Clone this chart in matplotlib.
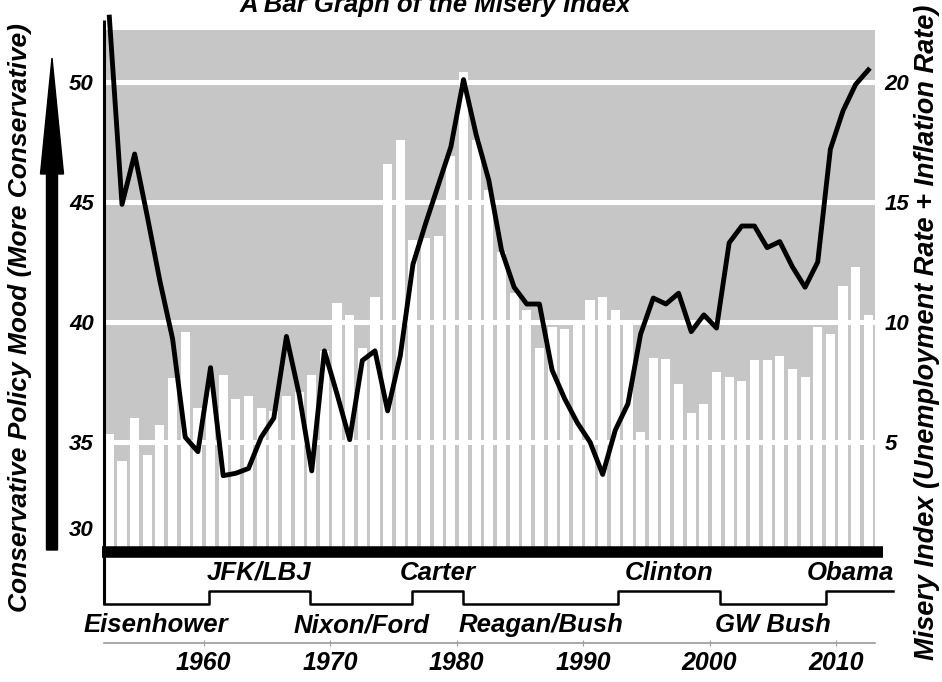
import matplotlib
matplotlib.use('Agg')
import matplotlib.pyplot as plt
import numpy as np
from matplotlib.patches import FancyArrow
from matplotlib.transforms import blended_transform_factory

plt.rcParams['font.family'] = ['Liberation Sans', 'DejaVu Sans']
plt.rcParams['font.weight'] = 'bold'
plt.rcParams['font.style'] = 'italic'

# data
years = list(range(1952, 2013))
misery = [5.35, 4.2, 6.0, 4.45, 5.7, 7.65, 9.6, 6.4, 7.3, 7.8,
          6.8, 6.9, 6.4, 6.3, 6.9, 7.1, 7.8, 8.8, 10.8, 10.3,
          8.9, 11.05, 16.6, 17.6, 13.4, 13.5, 13.6, 16.9, 20.4, 17.6,
          15.5, 12.9, 11.2, 10.5, 8.9, 9.8, 9.7, 10.0, 10.9, 11.05,
          10.5, 9.95, 5.4, 8.5, 8.45, 7.4, 6.2, 6.6, 7.9, 7.7,
          7.55, 8.4, 8.4, 8.6, 8.05, 7.7, 9.8, 9.5, 11.5, 12.3,
          10.3]
mood = [52.7, 44.9, 47.0, 44.4, 41.7, 39.3, 35.2, 34.6, 38.1, 33.6,
        33.7, 33.9, 35.2, 36.0, 39.4, 37.0, 33.8, 38.8, 37.0, 35.1,
        38.4, 38.8, 36.3, 38.6, 42.4, 44.1, 45.7, 47.3, 50.1, 47.8,
        45.9, 43.0, 41.45, 40.75, 40.75, 38.0, 36.8, 35.8, 35.0, 33.65,
        35.5, 36.6, 39.5, 41.0, 40.75, 41.2, 39.6, 40.3, 39.75, 43.3,
        44.0, 44.0, 43.1, 43.35, 42.3, 41.45, 42.5, 47.2, 48.8, 49.9,
        50.5]
presidents = ['Eisenhower', 'JFK/LBJ', 'Nixon/Ford', 'Carter',
              'Reagan/Bush', 'Clinton', 'GW Bush', 'Obama']
term_changes = [1960.4, 1968.4, 1976.5, 1980.5, 1992.8, 2000.8, 2009.2]
decades = [1960, 1970, 1980, 1990, 2000, 2010]
misery_ticks = [5, 10, 15, 20]
mood_ticks = [50, 45, 40, 35, 31.42]
mood_labels = ['50', '45', '40', '35', '30']

x0, x1 = 1952.09, 2013.08
fig = plt.figure(figsize=(9.42, 6.82), dpi=100)
ax = fig.add_axes([0.1099, 0.1899, 0.819, 0.7779])
axm = ax.twinx()
x = np.array(years) + 0.55

ax.set_xlim(x0, x1)
ax.set_ylim(0.4, 22.5)
ax.axhspan(0, 22.17, color='#c6c6c6', lw=0, zorder=0)
for g in misery_ticks:
    ax.axhline(g, color='white', lw=3.6, zorder=1)
ax.bar(x, misery, width=0.72, color='white', lw=0, zorder=2)
ax.yaxis.tick_right()
ax.set_yticks(misery_ticks)
ax.tick_params(axis='y', length=0, pad=7, labelsize=16)
ax.set_xticks([])
for s in ax.spines.values():
    s.set_visible(False)

axm.set_ylim(30.4, 52.5)
axm.yaxis.tick_left()
axm.set_yticks(mood_ticks)
axm.set_yticklabels(mood_labels)
axm.tick_params(axis='y', length=0, pad=7, labelsize=16)
for s in axm.spines.values():
    s.set_visible(False)
axm.plot(x, mood, color='black', lw=3.5, clip_on=False, zorder=3)

# thick black base, left rule
axm.plot([-0.002, 1.0104], [0, 0], transform=axm.transAxes, color='black',
         lw=8.3, solid_capstyle='butt', clip_on=False)
axm.plot([0, 0], [1.004, -0.097], transform=axm.transAxes, color='black',
         lw=2.2, solid_capstyle='butt', clip_on=False)

# presidency step line
trans = blended_transform_factory(axm.transData, axm.transAxes)
low, high = -0.097, -0.0726
levels = [low if i % 2 == 0 else high for i in range(len(presidents))]
sx = [x0] + term_changes + [2014.5]
sy = levels + [levels[-1]]
axm.plot(sx, sy, drawstyle='steps-post', transform=trans, color='black',
         lw=1.8, clip_on=False)
bounds = [x0] + term_changes + [x1]
for i, name in enumerate(presidents):
    mid = (bounds[i] + bounds[i + 1]) / 2
    ty = -0.1367 if levels[i] == low else -0.0386
    axm.text(mid, ty, name, transform=trans, ha='center', va='center',
             fontsize=18.5, clip_on=False)

sec = ax.secondary_xaxis(-0.1706)
sec.set_xticks(decades)
sec.spines['bottom'].set_color('#9a9a9a')
sec.spines['bottom'].set_linewidth(1.2)
sec.tick_params(direction='inout', length=4, color='#9a9a9a', labelsize=18, pad=4)

fig.add_artist(FancyArrow(0.52, 1.32, 0, 4.92, width=0.11, head_width=0.23,
                          head_length=1.16, length_includes_head=True,
                          transform=fig.dpi_scale_trans, color='black'))

fig.text(435 / 942, 1 - 12 / 682, 'A Bar Graph of the Misery Index',
         ha='center', va='baseline', fontsize=18.5)
fig.text(20 / 942, 1 - 318 / 682, 'Conservative Policy Mood (More Conservative)',
         rotation=90, ha='center', va='center', fontsize=19)
fig.text(927 / 942, 1 - 332 / 682,
         'Misery Index (Unemployment Rate + Inflation Rate)',
         rotation=90, ha='center', va='center', fontsize=19.5)

fig.savefig('out.png', dpi=100)
